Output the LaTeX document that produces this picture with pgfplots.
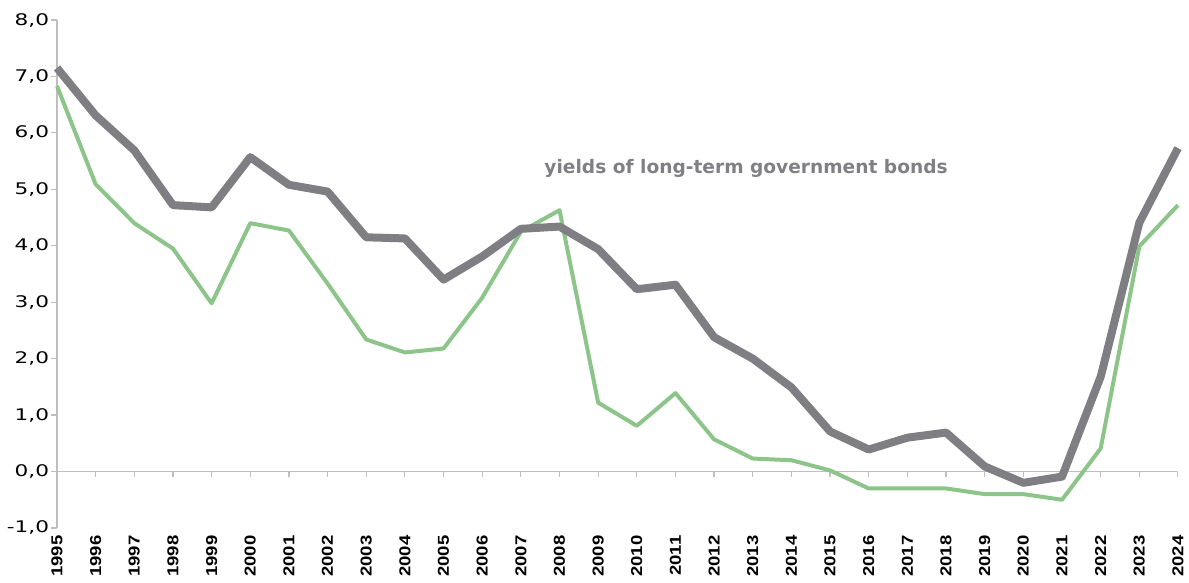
\documentclass[border=0pt]{standalone}
\usepackage{fontspec}
\usepackage{pgfplots}
\usepackage{pgfplotstable}
\pgfplotsset{compat=1.18}
\newfontfamily\yfont[FakeStretch=1.35]{DejaVu Sans}
\newfontfamily\xfont[FakeStretch=1.17]{Liberation Sans Bold}
\newfontfamily\afont{DejaVu Sans Bold}
\definecolor{linegray}{RGB}{127,127,131}
\definecolor{linegreen}{RGB}{141,196,137}
\definecolor{axisgray}{RGB}{191,191,191}
\definecolor{textgray}{RGB}{128,128,132}

\pgfplotstableread{
year gray green
1995 7.15 6.83
1996 6.31 5.09
1997 5.69 4.40
1998 4.72 3.95
1999 4.68 2.98
2000 5.57 4.40
2001 5.08 4.27
2002 4.96 3.33
2003 4.15 2.34
2004 4.13 2.11
2005 3.40 2.18
2006 3.81 3.08
2007 4.30 4.25
2008 4.34 4.63
2009 3.94 1.22
2010 3.23 0.81
2011 3.31 1.39
2012 2.38 0.57
2013 2.00 0.23
2014 1.49 0.20
2015 0.71 0.02
2016 0.39 -0.30
2017 0.60 -0.30
2018 0.69 -0.30
2019 0.09 -0.40
2020 -0.20 -0.40
2021 -0.09 -0.50
2022 1.68 0.41
2023 4.41 3.99
2024 5.73 4.72
}\datatable

\begin{document}
\begin{tikzpicture}
\begin{axis}[
  scale only axis,
  width=560.5pt, height=254pt,
  xmin=1995, xmax=2024, ymin=-1, ymax=8,
  axis x line=middle, axis y line=left,
  hide obscured x ticks=false, hide obscured y ticks=false,
  axis line style={draw=axisgray, line width=0.6pt, -},
  tick style={draw=axisgray, line width=0.6pt},
  tick align=outside,
  major tick length=2.8pt,
  xtick={1995,...,2024},
  ytick={-1,0,...,8},
  xticklabel shift=28pt,
  xticklabel style={rotate=90, anchor=east, font=\xfont\fontsize{7.9}{7.9}\selectfont, inner sep=1pt,
    /pgf/number format/.cd, 1000 sep={}, assume math mode=true},
  yticklabel style={font=\yfont\fontsize{8}{8}\selectfont, inner xsep=1pt,
    /pgf/number format/.cd, fixed, fixed zerofill, precision=1, use comma, assume math mode=true},
  clip=false,
]
\addplot[linegreen, line width=2pt, line join=round] table[x=year, y=green] {\datatable};
\addplot[linegray, line width=4pt, line join=round] table[x=year, y=gray] {\datatable};
\node[anchor=west, text=textgray, font=\afont\fontsize{9.3}{9.3}\selectfont, inner sep=0pt]
  at (axis cs:2007.6,5.37) {yields of long-term government bonds};
\end{axis}
\pgfresetboundingbox
\path ([shift={(-28.5pt,-27.5pt)}]current axis.south west) rectangle ([shift={(5.5pt,10pt)}]current axis.north east);
\end{tikzpicture}
\end{document}
